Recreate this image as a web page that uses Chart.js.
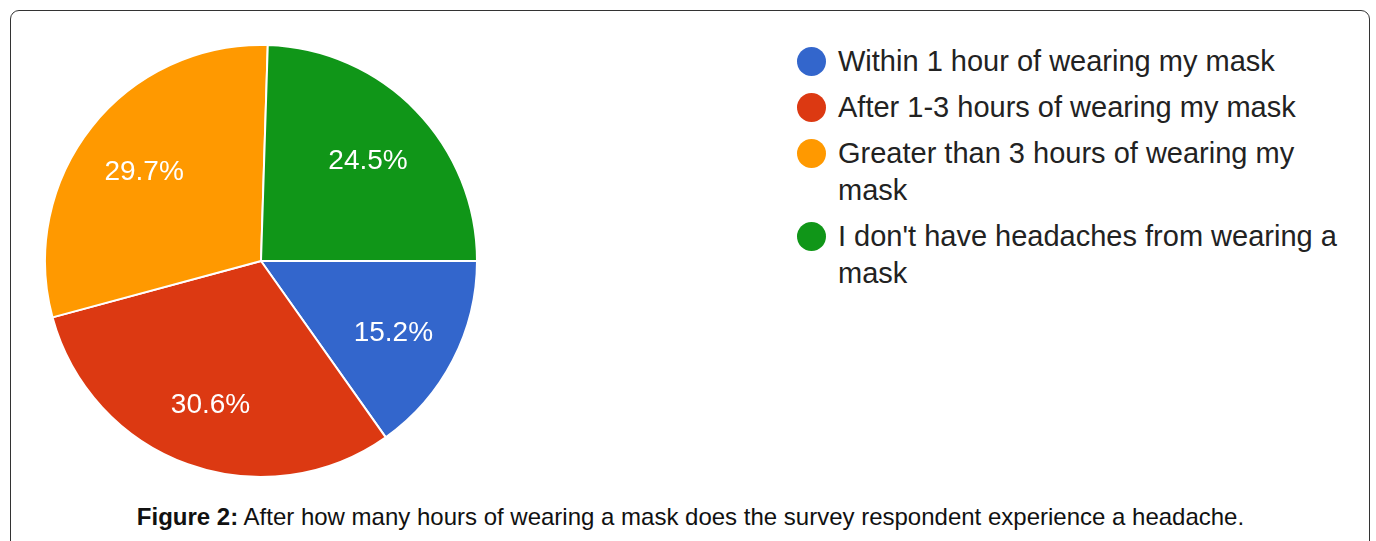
<!DOCTYPE html>
<html>
<head>
<meta charset="utf-8">
<script src="https://cdn.jsdelivr.net/npm/chart.js@4"></script>
<style>
  html, body { margin: 0; padding: 0; background: #fff; width: 1376px; height: 541px; overflow: hidden; }
  #frame {
    position: absolute; left: 10px; top: 10px; width: 1360px; height: 560px;
    border: 1.5px solid #333; border-radius: 9px; box-sizing: border-box;
  }
  #pieBox { position: absolute; left: 44px; top: 44px; width: 434px; height: 434px; }
  #legend { position: absolute; left: 797px; top: 43px; width: 552px; font-family: "Liberation Sans", Arial, sans-serif; font-size: 29px; color: #222; }
  .item { position: relative; padding-left: 41px; line-height: 37px; margin-bottom: 9px; }
  .dot { position: absolute; left: 0; top: 4px; width: 29px; height: 29px; border-radius: 50%; }
  #caption {
    position: absolute; left: 0; width: 1381px; top: 503px; text-align: center;
    font-family: "Liberation Sans", Arial, sans-serif; font-size: 24px; color: #111;
  }
</style>
</head>
<body>
<div id="frame"></div>
<div id="pieBox"><canvas id="pieChart"></canvas></div>
<div id="legend"></div>
<div id="caption"><b>Figure 2:</b> After how many hours of wearing a mask does the survey respondent experience a headache.</div>

<script>
var categories = [
    'Within 1 hour of wearing my mask',
    'After 1-3 hours of wearing my mask',
    'Greater than 3 hours of wearing my mask',
    "I don't have headaches from wearing a mask"
];
var percentages = [15.2, 30.6, 29.7, 24.5];
var sliceColors = ['#3366cc', '#dc3912', '#ff9900', '#109618'];

// legend built from the same arrays
var legend = document.getElementById('legend');
categories.forEach(function(name, i) {
    var row = document.createElement('div');
    row.className = 'item';
    row.innerHTML = '<span class="dot" style="background:' + sliceColors[i] + '"></span>' + name;
    legend.appendChild(row);
});

// percent labels inside slices
var sliceLabels = {
    id: 'sliceLabels',
    afterDatasetsDraw: function(chart) {
        var ctx = chart.ctx;
        var meta = chart.getDatasetMeta(0);
        ctx.save();
        ctx.fillStyle = '#fff';
        ctx.font = '28px "Liberation Sans", Arial, sans-serif';
        ctx.textAlign = 'center';
        ctx.textBaseline = 'middle';
        meta.data.forEach(function(arc, i) {
            var p = arc.getProps(['x', 'y', 'startAngle', 'endAngle', 'outerRadius']);
            var mid = (p.startAngle + p.endAngle) / 2;
            var r = p.outerRadius * 0.69;
            ctx.fillText(percentages[i].toFixed(1) + '%', p.x + Math.cos(mid) * r, p.y + Math.sin(mid) * r + 4);
        });
        ctx.restore();
    }
};

var ctx = document.getElementById('pieChart').getContext('2d');
var pieChart = new Chart(ctx, {
    type: 'pie',
    data: {
        labels: categories,
        datasets: [{
            data: percentages,
            backgroundColor: sliceColors,
            borderColor: '#ffffff',
            borderWidth: 2
        }]
    },
    options: {
        responsive: true,
        maintainAspectRatio: false,
        animation: false,
        rotation: 90,
        layout: { padding: 0 },
        plugins: {
            legend: { display: false },
            tooltip: { enabled: false }
        }
    },
    plugins: [sliceLabels]
});
</script>
</body>
</html>
